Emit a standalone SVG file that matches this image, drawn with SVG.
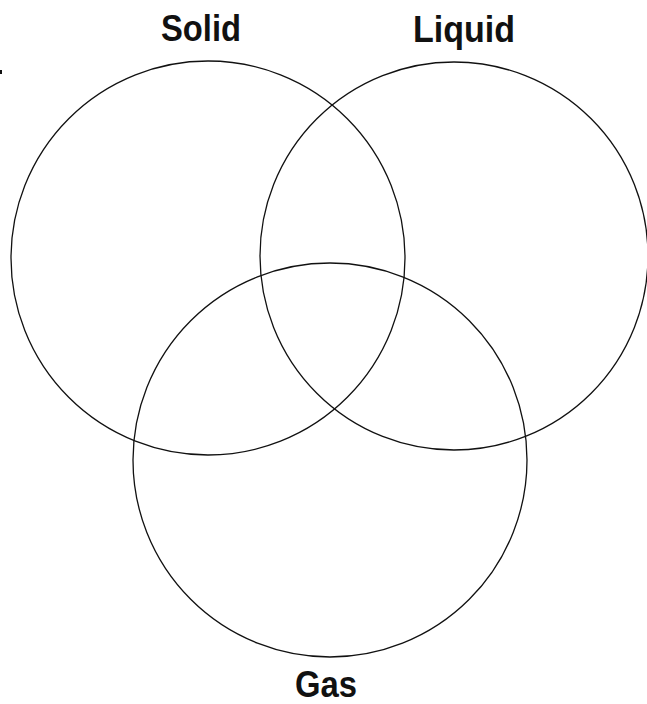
<svg xmlns="http://www.w3.org/2000/svg" width="647" height="704" viewBox="0 0 647 704">
  <style>
    .c { fill: none; stroke: #111; stroke-width: 1.3; }
    .t { font-family: "Liberation Sans", Arial, sans-serif; font-weight: bold; font-size: 36px; fill: #111; text-anchor: middle; }
  </style>
  <rect width="647" height="704" fill="#fff"/>
  <g id="mark"><line x1="1" y1="70" x2="1" y2="74" stroke="#111" stroke-width="2"/></g>
  <g id="solid">
    <circle class="c" cx="208" cy="258" r="197"/>
    <text class="t" x="201" y="41" textLength="80" lengthAdjust="spacingAndGlyphs">Solid</text>
  </g>
  <g id="liquid">
    <circle class="c" cx="454" cy="256" r="194"/>
    <text class="t" x="464" y="42" textLength="102" lengthAdjust="spacingAndGlyphs">Liquid</text>
  </g>
  <g id="gas">
    <circle class="c" cx="330" cy="460" r="197"/>
    <text class="t" x="326" y="697" textLength="62" lengthAdjust="spacingAndGlyphs">Gas</text>
  </g>
  <g id="connectors"></g>
</svg>
